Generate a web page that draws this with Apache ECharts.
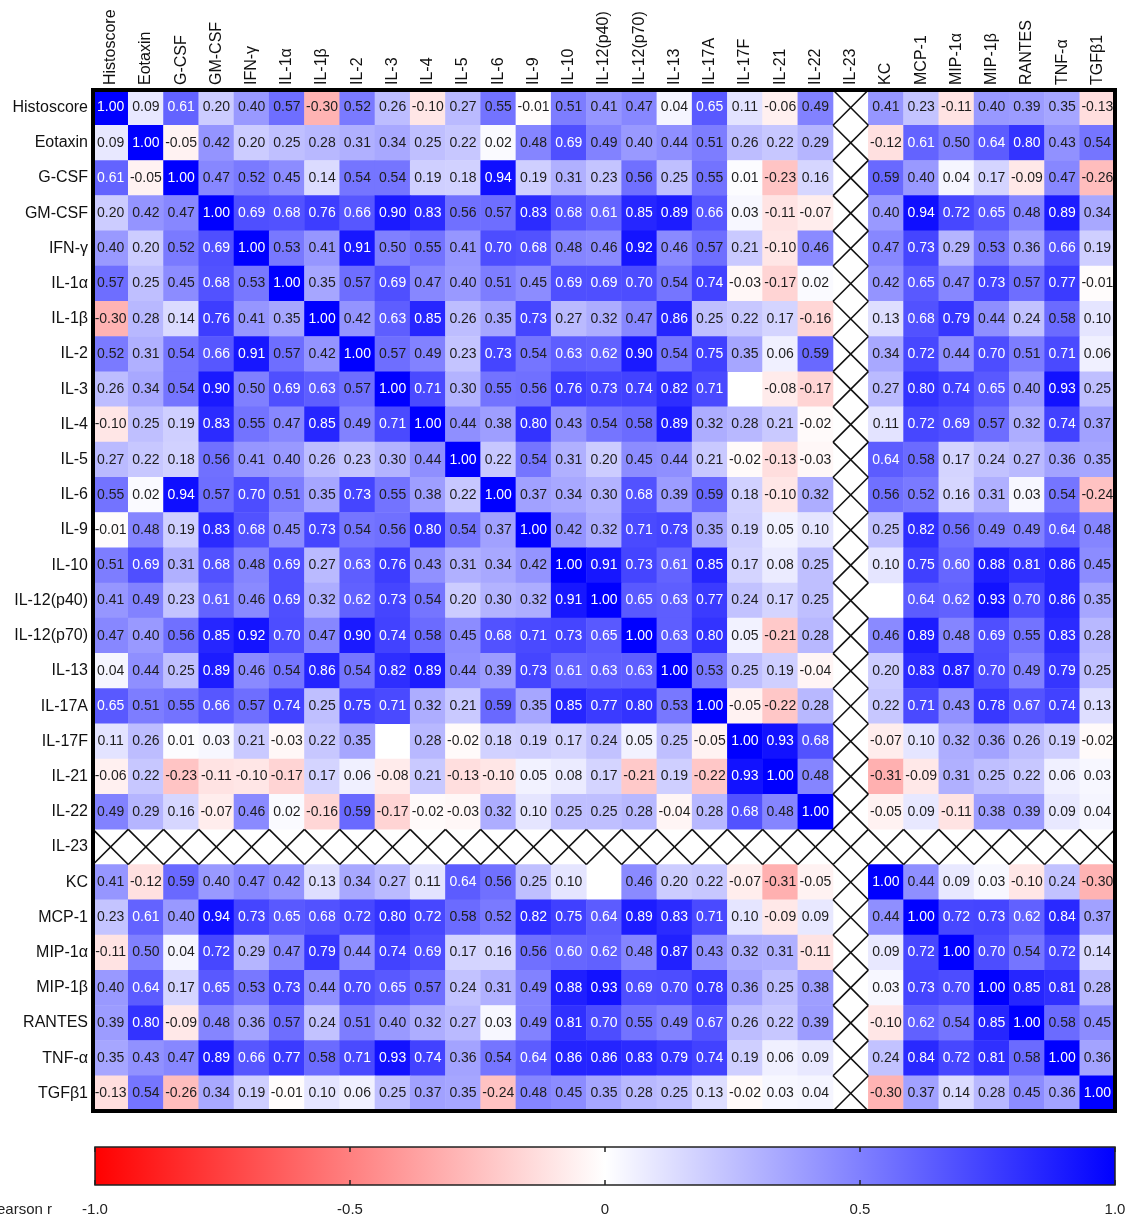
<!DOCTYPE html>
<html>
<head>
<meta charset="utf-8">
<script src="https://cdn.jsdelivr.net/npm/echarts@6/dist/echarts.min.js"></script>
<style>
html,body{margin:0;padding:0;background:#fff;}
#chart{width:1131px;height:1218px;}
</style>
</head>
<body>
<div id="chart"></div>
<script>
// ---- categories ----
const labels = ['Histoscore','Eotaxin','G-CSF','GM-CSF','IFN-γ','IL-1α','IL-1β','IL-2','IL-3','IL-4','IL-5','IL-6','IL-9','IL-10','IL-12(p40)','IL-12(p70)','IL-13','IL-17A','IL-17F','IL-21','IL-22','IL-23','KC','MCP-1','MIP-1α','MIP-1β','RANTES','TNF-α','TGFβ1'];
// variables excluded from analysis (drawn as crossed cells)
const excluded = ['IL-23'];

// ---- correlation rows (null = no value) ----
const rHistoscore = [1.00,0.09,0.61,0.20,0.40,0.57,-0.30,0.52,0.26,-0.10,0.27,0.55,-0.01,0.51,0.41,0.47,0.04,0.65,0.11,-0.06,0.49,null,0.41,0.23,-0.11,0.40,0.39,0.35,-0.13];
const rEotaxin    = [0.09,1.00,-0.05,0.42,0.20,0.25,0.28,0.31,0.34,0.25,0.22,0.02,0.48,0.69,0.49,0.40,0.44,0.51,0.26,0.22,0.29,null,-0.12,0.61,0.50,0.64,0.80,0.43,0.54];
const rGCSF       = [0.61,-0.05,1.00,0.47,0.52,0.45,0.14,0.54,0.54,0.19,0.18,0.94,0.19,0.31,0.23,0.56,0.25,0.55,0.01,-0.23,0.16,null,0.59,0.40,0.04,0.17,-0.09,0.47,-0.26];
const rGMCSF      = [0.20,0.42,0.47,1.00,0.69,0.68,0.76,0.66,0.90,0.83,0.56,0.57,0.83,0.68,0.61,0.85,0.89,0.66,0.03,-0.11,-0.07,null,0.40,0.94,0.72,0.65,0.48,0.89,0.34];
const rIFNg       = [0.40,0.20,0.52,0.69,1.00,0.53,0.41,0.91,0.50,0.55,0.41,0.70,0.68,0.48,0.46,0.92,0.46,0.57,0.21,-0.10,0.46,null,0.47,0.73,0.29,0.53,0.36,0.66,0.19];
const rIL1a       = [0.57,0.25,0.45,0.68,0.53,1.00,0.35,0.57,0.69,0.47,0.40,0.51,0.45,0.69,0.69,0.70,0.54,0.74,-0.03,-0.17,0.02,null,0.42,0.65,0.47,0.73,0.57,0.77,-0.01];
const rIL1b       = [-0.30,0.28,0.14,0.76,0.41,0.35,1.00,0.42,0.63,0.85,0.26,0.35,0.73,0.27,0.32,0.47,0.86,0.25,0.22,0.17,-0.16,null,0.13,0.68,0.79,0.44,0.24,0.58,0.10];
const rIL2        = [0.52,0.31,0.54,0.66,0.91,0.57,0.42,1.00,0.57,0.49,0.23,0.73,0.54,0.63,0.62,0.90,0.54,0.75,0.35,0.06,0.59,null,0.34,0.72,0.44,0.70,0.51,0.71,0.06];
const rIL3        = [0.26,0.34,0.54,0.90,0.50,0.69,0.63,0.57,1.00,0.71,0.30,0.55,0.56,0.76,0.73,0.74,0.82,0.71,null,-0.08,-0.17,null,0.27,0.80,0.74,0.65,0.40,0.93,0.25];
const rIL4        = [-0.10,0.25,0.19,0.83,0.55,0.47,0.85,0.49,0.71,1.00,0.44,0.38,0.80,0.43,0.54,0.58,0.89,0.32,0.28,0.21,-0.02,null,0.11,0.72,0.69,0.57,0.32,0.74,0.37];
const rIL5        = [0.27,0.22,0.18,0.56,0.41,0.40,0.26,0.23,0.30,0.44,1.00,0.22,0.54,0.31,0.20,0.45,0.44,0.21,-0.02,-0.13,-0.03,null,0.64,0.58,0.17,0.24,0.27,0.36,0.35];
const rIL6        = [0.55,0.02,0.94,0.57,0.70,0.51,0.35,0.73,0.55,0.38,0.22,1.00,0.37,0.34,0.30,0.68,0.39,0.59,0.18,-0.10,0.32,null,0.56,0.52,0.16,0.31,0.03,0.54,-0.24];
const rIL9        = [-0.01,0.48,0.19,0.83,0.68,0.45,0.73,0.54,0.56,0.80,0.54,0.37,1.00,0.42,0.32,0.71,0.73,0.35,0.19,0.05,0.10,null,0.25,0.82,0.56,0.49,0.49,0.64,0.48];
const rIL10       = [0.51,0.69,0.31,0.68,0.48,0.69,0.27,0.63,0.76,0.43,0.31,0.34,0.42,1.00,0.91,0.73,0.61,0.85,0.17,0.08,0.25,null,0.10,0.75,0.60,0.88,0.81,0.86,0.45];
const rIL12p40    = [0.41,0.49,0.23,0.61,0.46,0.69,0.32,0.62,0.73,0.54,0.20,0.30,0.32,0.91,1.00,0.65,0.63,0.77,0.24,0.17,0.25,null,null,0.64,0.62,0.93,0.70,0.86,0.35];
const rIL12p70    = [0.47,0.40,0.56,0.85,0.92,0.70,0.47,0.90,0.74,0.58,0.45,0.68,0.71,0.73,0.65,1.00,0.63,0.80,0.05,-0.21,0.28,null,0.46,0.89,0.48,0.69,0.55,0.83,0.28];
const rIL13       = [0.04,0.44,0.25,0.89,0.46,0.54,0.86,0.54,0.82,0.89,0.44,0.39,0.73,0.61,0.63,0.63,1.00,0.53,0.25,0.19,-0.04,null,0.20,0.83,0.87,0.70,0.49,0.79,0.25];
const rIL17A      = [0.65,0.51,0.55,0.66,0.57,0.74,0.25,0.75,0.71,0.32,0.21,0.59,0.35,0.85,0.77,0.80,0.53,1.00,-0.05,-0.22,0.28,null,0.22,0.71,0.43,0.78,0.67,0.74,0.13];
const rIL17F      = [0.11,0.26,0.01,0.03,0.21,-0.03,0.22,0.35,null,0.28,-0.02,0.18,0.19,0.17,0.24,0.05,0.25,-0.05,1.00,0.93,0.68,null,-0.07,0.10,0.32,0.36,0.26,0.19,-0.02];
const rIL21       = [-0.06,0.22,-0.23,-0.11,-0.10,-0.17,0.17,0.06,-0.08,0.21,-0.13,-0.10,0.05,0.08,0.17,-0.21,0.19,-0.22,0.93,1.00,0.48,null,-0.31,-0.09,0.31,0.25,0.22,0.06,0.03];
const rIL22       = [0.49,0.29,0.16,-0.07,0.46,0.02,-0.16,0.59,-0.17,-0.02,-0.03,0.32,0.10,0.25,0.25,0.28,-0.04,0.28,0.68,0.48,1.00,null,-0.05,0.09,-0.11,0.38,0.39,0.09,0.04];
const rIL23       = [null,null,null,null,null,null,null,null,null,null,null,null,null,null,null,null,null,null,null,null,null,null,null,null,null,null,null,null,null];
const rKC         = [0.41,-0.12,0.59,0.40,0.47,0.42,0.13,0.34,0.27,0.11,0.64,0.56,0.25,0.10,null,0.46,0.20,0.22,-0.07,-0.31,-0.05,null,1.00,0.44,0.09,0.03,-0.10,0.24,-0.30];
const rMCP1       = [0.23,0.61,0.40,0.94,0.73,0.65,0.68,0.72,0.80,0.72,0.58,0.52,0.82,0.75,0.64,0.89,0.83,0.71,0.10,-0.09,0.09,null,0.44,1.00,0.72,0.73,0.62,0.84,0.37];
const rMIP1a      = [-0.11,0.50,0.04,0.72,0.29,0.47,0.79,0.44,0.74,0.69,0.17,0.16,0.56,0.60,0.62,0.48,0.87,0.43,0.32,0.31,-0.11,null,0.09,0.72,1.00,0.70,0.54,0.72,0.14];
const rMIP1b      = [0.40,0.64,0.17,0.65,0.53,0.73,0.44,0.70,0.65,0.57,0.24,0.31,0.49,0.88,0.93,0.69,0.70,0.78,0.36,0.25,0.38,null,0.03,0.73,0.70,1.00,0.85,0.81,0.28];
const rRANTES     = [0.39,0.80,-0.09,0.48,0.36,0.57,0.24,0.51,0.40,0.32,0.27,0.03,0.49,0.81,0.70,0.55,0.49,0.67,0.26,0.22,0.39,null,-0.10,0.62,0.54,0.85,1.00,0.58,0.45];
const rTNFa       = [0.35,0.43,0.47,0.89,0.66,0.77,0.58,0.71,0.93,0.74,0.36,0.54,0.64,0.86,0.86,0.83,0.79,0.74,0.19,0.06,0.09,null,0.24,0.84,0.72,0.81,0.58,1.00,0.36];
const rTGFb1      = [-0.13,0.54,-0.26,0.34,0.19,-0.01,0.10,0.06,0.25,0.37,0.35,-0.24,0.48,0.45,0.35,0.28,0.25,0.13,-0.02,0.03,0.04,null,-0.30,0.37,0.14,0.28,0.45,0.36,1.00];

const rows = [rHistoscore,rEotaxin,rGCSF,rGMCSF,rIFNg,rIL1a,rIL1b,rIL2,rIL3,rIL4,rIL5,rIL6,rIL9,rIL10,rIL12p40,rIL12p70,rIL13,rIL17A,rIL17F,rIL21,rIL22,rIL23,rKC,rMCP1,rMIP1a,rMIP1b,rRANTES,rTNFa,rTGFb1];

// colour bar ticks
const scaleMin = -1, scaleMax = 1, scaleStep = 0.5;

// ---- build series data ----
const heatData = [];
const crossData = [];
rows.forEach((row, i) => {
  row.forEach((v, j) => {
    if (excluded.includes(labels[i]) || excluded.includes(labels[j])) {
      crossData.push([j, i]);
    } else if (v !== null) {
      heatData.push({
        value: [j, i, v],
        label: { color: v >= 0.595 ? '#ffffff' : '#1e1e1e' }
      });
    }
  });
});

const FONT = '"Liberation Sans", Arial, Helvetica, sans-serif';
const chart = echarts.init(document.getElementById('chart'), null, { renderer: 'canvas' });

const option = {
  backgroundColor: '#ffffff',
  animation: false,
  textStyle: { fontFamily: FONT },
  grid: [
    { left: 93, top: 90, width: 1022, height: 1021, show: true, borderColor: '#000', borderWidth: 4, backgroundColor: 'transparent', z: 10 },
    { left: 95, top: 1147, width: 1020, height: 38, show: true, borderColor: '#222', borderWidth: 1.5,
      backgroundColor: { type: 'linear', x: 0, y: 0, x2: 1, y2: 0,
        colorStops: [ { offset: 0, color: '#ff0000' }, { offset: 0.5, color: '#ffffff' }, { offset: 1, color: '#0000ff' } ] } }
  ],
  xAxis: [
    { type: 'category', gridIndex: 0, data: labels, position: 'top',
      axisLine: { show: false }, axisTick: { show: false }, splitLine: { show: false },
      axisLabel: { rotate: -90, interval: 0, margin: 5, fontSize: 16, color: '#111', fontFamily: FONT } },
    { type: 'value', gridIndex: 1, min: scaleMin, max: scaleMax, interval: scaleStep, position: 'bottom',
      axisLine: { show: false }, splitLine: { show: false },
      axisTick: { show: true, inside: true, length: 5, lineStyle: { color: '#222', width: 1.5 } },
      axisLabel: { margin: 17, fontSize: 15, color: '#222', fontFamily: FONT,
        formatter: v => (v === 0 ? '0' : v.toFixed(1)) } },
    { type: 'value', gridIndex: 1, min: scaleMin, max: scaleMax, interval: scaleStep, position: 'top',
      axisLine: { show: false }, splitLine: { show: false },
      axisTick: { show: true, inside: true, length: 5, lineStyle: { color: '#222', width: 1.5 } },
      axisLabel: { show: false } }
  ],
  yAxis: [
    { type: 'category', gridIndex: 0, data: labels, inverse: true,
      axisLine: { show: false }, axisTick: { show: false }, splitLine: { show: false },
      axisLabel: { interval: 0, margin: 5, fontSize: 16, color: '#111', fontFamily: FONT } },
    { type: 'value', gridIndex: 1, min: 0, max: 1, show: false }
  ],
  visualMap: {
    show: false, type: 'continuous', seriesIndex: 0, dimension: 2,
    min: scaleMin, max: scaleMax,
    inRange: { color: ['#ff0000', '#ffffff', '#0000ff'] }
  },
  graphic: [
    { type: 'text', x: 52, y: 1210,
      style: { text: 'Pearson r', textAlign: 'right', textVerticalAlign: 'middle',
        font: '15px ' + FONT, fill: '#222' } }
  ],
  series: [
    { type: 'heatmap', xAxisIndex: 0, yAxisIndex: 0, data: heatData,
      itemStyle: { borderWidth: 0 },
      label: { show: true, fontSize: 14, fontFamily: FONT,
        formatter: p => p.value[2].toFixed(2) },
      emphasis: { disabled: true } },
    { type: 'custom', xAxisIndex: 0, yAxisIndex: 0, data: crossData, z: 5,
      renderItem: function (params, api) {
        const c = api.coord([api.value(0), api.value(1)]);
        const s = api.size([1, 1]);
        const x0 = c[0] - s[0] / 2, x1 = c[0] + s[0] / 2;
        const y0 = c[1] - s[1] / 2, y1 = c[1] + s[1] / 2;
        const st = { stroke: '#111', lineWidth: 1.6 };
        return { type: 'group', children: [
          { type: 'line', shape: { x1: x0, y1: y0, x2: x1, y2: y1 }, style: st },
          { type: 'line', shape: { x1: x0, y1: y1, x2: x1, y2: y0 }, style: st }
        ] };
      } }
  ]
};
chart.setOption(option);
</script>
</body>
</html>
